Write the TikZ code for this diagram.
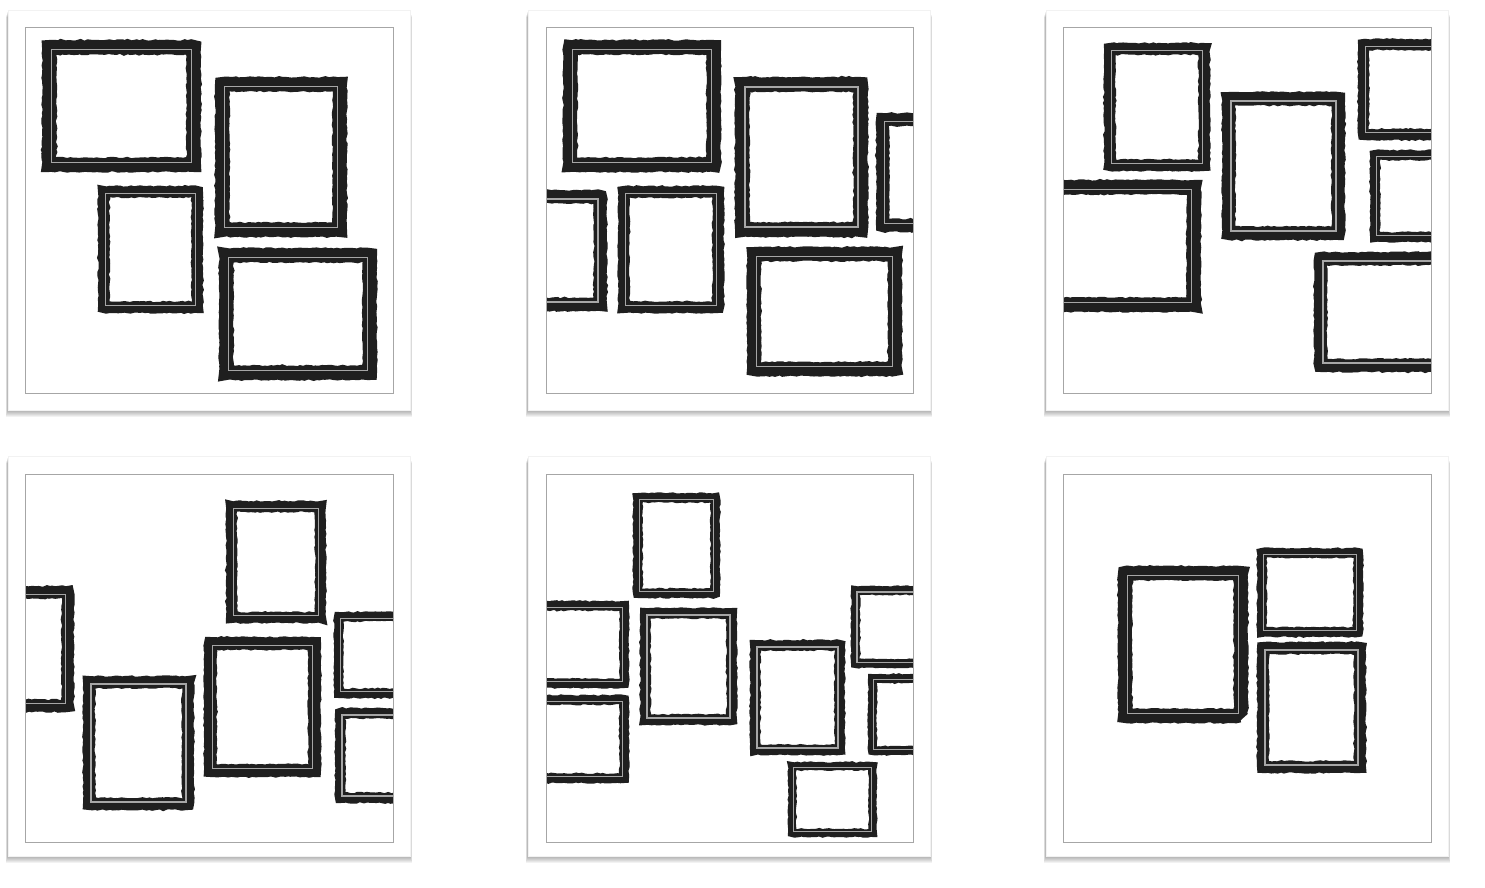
\documentclass[tikz,border=0pt]{standalone}
\usepackage{tikz}
\usetikzlibrary{calc,decorations.pathmorphing}
\tikzset{
  card/.style={fill=white, draw=black!5, line width=0.6pt},
  cardshade/.style={fill=black, opacity=0.05},
  mat/.style={draw=black!35, line width=0.8pt},
  frameband/.style={draw=black!88, line join=miter, miter limit=2,
    decorate, decoration={random steps, segment length=3pt, amplitude=0.7pt}},
  framelight/.style={draw=black!35, line join=miter}
}
% one picture frame: left, top, right, bottom (pixel units, y down)
\newcommand{\wallframe}[4]{%
  \pgfmathsetmacro\fw{0.11*min(#3-#1,#4-#2)}%
  \draw[frameband, line width=\fw pt] ({#1+\fw/2},{#2+\fw/2}) rectangle ({#3-\fw/2},{#4-\fw/2});
  \draw[framelight, line width=0.12*\fw pt] ({#1+0.66*\fw},{#2+0.66*\fw}) rectangle ({#3-0.66*\fw},{#4-0.66*\fw});
}
% white card with its shadow and the thin mat line: left, top
\newcommand{\wallcard}[2]{%
  \foreach \s in {1,...,7}
    \fill[cardshade] ({#1-\s/3},{#2+\s}) rectangle ({#1+402+\s/3},{#2+400+\s});
  \draw[card] (#1,#2) rectangle ({#1+402},{#2+400});
}

\begin{document}
\begin{tikzpicture}[x=1pt, y=-1pt]
  \useasboundingbox (0,0) rectangle (1485,888);
  \pgfmathsetseed{7}

  % cards
  \foreach \cx in {8,528,1046}
    \foreach \cy in {10,456}
      \wallcard{\cx}{\cy};

  % panel 1
  \begin{scope}
    \clip (25,27) rectangle (393,393);
    \wallframe{42}{40}{201}{172}
    \wallframe{215}{77}{347}{237}
    \wallframe{98}{186}{203}{313}
    \wallframe{219}{248}{377}{380}
  \end{scope}
  \draw[mat] (25,27) rectangle (393,393);

  % panel 2
  \begin{scope}
    \clip (546,27) rectangle (913,393);
    \wallframe{563}{40}{721}{172}
    \wallframe{735}{77}{868}{237}
    \wallframe{876}{113}{1000}{232}
    \wallframe{480}{190}{607}{311}
    \wallframe{618}{186}{724}{313}
    \wallframe{747}{247}{902}{376}
  \end{scope}
  \draw[mat] (546,27) rectangle (913,393);

  % panel 3
  \begin{scope}
    \clip (1063,27) rectangle (1431,393);
    \wallframe{1104}{43}{1210}{171}
    \wallframe{1000}{180}{1201}{312}
    \wallframe{1222}{92}{1345}{240}
    \wallframe{1358}{39}{1470}{140}
    \wallframe{1370}{150}{1470}{242}
    \wallframe{1314}{252}{1480}{372}
  \end{scope}
  \draw[mat] (1063,27) rectangle (1431,393);

  % panel 4
  \begin{scope}
    \clip (25,474) rectangle (393,842);
    \wallframe{-40}{586}{74}{712}
    \wallframe{83}{676}{194}{810}
    \wallframe{226}{501}{326}{623}
    \wallframe{204}{637}{321}{777}
    \wallframe{334}{612}{440}{698}
    \wallframe{335}{708}{440}{803}
  \end{scope}
  \draw[mat] (25,474) rectangle (393,842);

  % panel 5
  \begin{scope}
    \clip (546,474) rectangle (913,842);
    \wallframe{633}{493}{720}{598}
    \wallframe{520}{601}{629}{688}
    \wallframe{520}{695}{629}{783}
    \wallframe{640}{608}{737}{725}
    \wallframe{750}{640}{845}{755}
    \wallframe{851}{586}{950}{668}
    \wallframe{868}{674}{960}{755}
    \wallframe{788}{762}{877}{837}
  \end{scope}
  \draw[mat] (546,474) rectangle (913,842);

  % panel 6
  \begin{scope}
    \clip (1063,474) rectangle (1431,842);
    \wallframe{1118}{566}{1248}{723}
    \wallframe{1257}{548}{1363}{637}
    \wallframe{1257}{642}{1366}{773}
  \end{scope}
  \draw[mat] (1063,474) rectangle (1431,842);
\end{tikzpicture}
\end{document}
